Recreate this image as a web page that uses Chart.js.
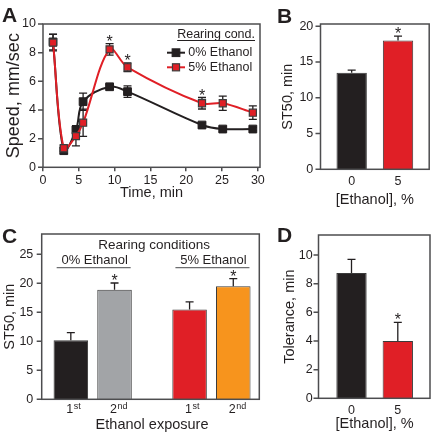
<!DOCTYPE html>
<html>
<head>
<meta charset="utf-8">
<script src="https://cdn.jsdelivr.net/npm/chart.js@4.4.1/dist/chart.umd.min.js"></script>
<style>
  body { margin: 0; background: #fff; }
  #wrap { position: relative; width: 433px; height: 444px; overflow: hidden; }
  #wrap canvas { position: absolute; left: 0; top: 0; }
  .tag { position: absolute; font: bold 21px 'Liberation Sans', Arial, sans-serif; color: #231f20; line-height: 1; }
</style>
</head>
<body>
<div id="wrap">
  <canvas id="chartA" width="433" height="444"></canvas>
  <canvas id="chartB" width="433" height="444"></canvas>
  <canvas id="chartC" width="433" height="444"></canvas>
  <canvas id="chartD" width="433" height="444"></canvas>
  <div class="tag" style="left:2px;top:4px">A</div>
  <div class="tag" style="left:277px;top:5px">B</div>
  <div class="tag" style="left:2px;top:225px">C</div>
  <div class="tag" style="left:277px;top:224px">D</div>
</div>
<script>
// panel A - speed over time
var times = [1.4, 2.9, 4.6, 5.6, 9.3, 11.8, 22.2, 25.1, 29.3];
var speed0 = [8.75, 1.16, 2.6, 4.58, 5.62, 5.28, 2.95, 2.67, 2.67];
var speed0Err = [0.55, 0.2, 0.3, 0.6, 0.15, 0.4, 0.15, 0.15, 0.12];
var speed5 = [8.7, 1.33, 2.18, 3.11, 8.23, 6.98, 4.47, 4.47, 3.81];
var speed5Err = [0.58, 0.2, 0.68, 0.95, 0.4, 0.3, 0.4, 0.5, 0.47];
var speed5Sig = [false, false, false, false, true, true, true, false, false];
var rearingTitle = 'Rearing cond.';

// panel B - ST50 by rearing ethanol
var ethanolCats = ['0', '5'];
var st50 = [13.5, 18.0];
var st50Err = [0.35, 0.6];
var st50Sig = [false, true];

// panel C - ST50 by exposure
var rearingGroups = ['0% Ethanol', '5% Ethanol'];
var exposureLabels = ['1st', '2nd'];
var st50First = [10.2, 15.5];
var st50FirstErr = [1.3, 1.3];
var st50Second = [18.9, 19.5];
var st50SecondErr = [1.15, 1.3];
var st50SecondSig = [true, true];

// panel D - tolerance
var tolerance = [8.75, 4.0];
var toleranceErr = [0.95, 1.3];
var toleranceSig = [false, true];

var FONT = "'Liberation Sans', Arial, Helvetica, sans-serif";
var INK = '#231f20';
var AXIS = '#4d4d4f';
var RED = '#e01f26';

Chart.defaults.font.family = FONT;
Chart.defaults.font.size = 12.5;
Chart.defaults.color = INK;
Chart.defaults.animation = false;

function valueOf(d) {
    return (d !== null && typeof d === 'object') ? d.y : d;
}

// caixa em volta do gráfico + marcas do eixo y
function framePlugin(insetLeft, insetRight) {
    return {
        id: 'frame',
        afterDatasetsDraw: function (chart) {
            var a = chart.chartArea, ctx = chart.ctx, ys = chart.scales.y;
            var l = a.left + insetLeft, r = a.right - insetRight;
            ctx.save();
            ctx.strokeStyle = AXIS;
            ctx.lineWidth = 1.5;
            ctx.strokeRect(l, a.top, r - l, a.bottom - a.top);
            ctx.beginPath();
            ys.ticks.forEach(function (t) {
                var y = ys.getPixelForValue(t.value);
                ctx.moveTo(l - 5, y);
                ctx.lineTo(l, y);
            });
            ctx.stroke();
            ctx.restore();
        }
    };
}

function drawErrors(chart, twoSided) {
    var ctx = chart.ctx, ys = chart.scales.y;
    ctx.save();
    ctx.strokeStyle = INK;
    ctx.lineWidth = 1.3;
    chart.data.datasets.forEach(function (ds, di) {
        var meta = chart.getDatasetMeta(di);
        meta.data.forEach(function (el, i) {
            var v = valueOf(ds.data[i]);
            var e = ds.errors[i];
            var top = ys.getPixelForValue(v + e);
            var bot = ys.getPixelForValue(twoSided ? v - e : v);
            ctx.beginPath();
            ctx.moveTo(el.x, bot);
            ctx.lineTo(el.x, top);
            ctx.moveTo(el.x - 4, top);
            ctx.lineTo(el.x + 4, top);
            if (twoSided) {
                ctx.moveTo(el.x - 4, bot);
                ctx.lineTo(el.x + 4, bot);
            }
            ctx.stroke();
        });
    });
    ctx.restore();
}

function drawStars(chart) {
    var ctx = chart.ctx, ys = chart.scales.y;
    ctx.save();
    ctx.fillStyle = INK;
    ctx.font = '16px ' + FONT;
    ctx.textAlign = 'center';
    ctx.textBaseline = 'alphabetic';
    chart.data.datasets.forEach(function (ds, di) {
        if (!ds.stars) return;
        var meta = chart.getDatasetMeta(di);
        meta.data.forEach(function (el, i) {
            if (!ds.stars[i]) return;
            var top = ys.getPixelForValue(valueOf(ds.data[i]) + ds.errors[i]);
            ctx.fillText('*', el.x, top + 3);
        });
    });
    ctx.restore();
}

var errorPlugin = {
    id: 'errors',
    afterDatasetsDraw: function (chart) {
        drawErrors(chart, false);
        drawStars(chart);
    }
};

function yScale(max, step, title, width, labelPad, titlePad, titleSize) {
    return {
        min: 0, max: max,
        ticks: { stepSize: step, padding: labelPad, includeBounds: false },
        grid: { display: false, drawTicks: false },
        border: { display: false },
        title: { display: true, text: title, font: { size: titleSize || 14.5 }, padding: { top: titlePad, bottom: 0 } },
        afterFit: function (s) { s.width = width; }
    };
}

function barX(title, height, showTicks) {
    return {
        offset: true,
        ticks: { display: showTicks, padding: 5, maxRotation: 0 },
        grid: { display: false, drawTicks: false },
        border: { display: false },
        title: { display: true, text: title, font: { size: 14.5 }, padding: 0 },
        afterFit: function (s) { s.height = height; }
    };
}

// ---------- A ----------
new Chart(document.getElementById('chartA'), {
    type: 'line',
    data: {
        datasets: [{
            label: '0% Ethanol',
            data: times.map(function (t, i) { return { x: t, y: speed0[i] }; }),
            errors: speed0Err,
            borderColor: INK, borderWidth: 2, tension: 0.35,
            pointStyle: 'rect', pointRadius: 5.5, pointBorderWidth: 1,
            pointBackgroundColor: INK, pointBorderColor: INK,
            order: 1
        }, {
            label: '5% Ethanol',
            data: times.map(function (t, i) { return { x: t, y: speed5[i] }; }),
            errors: speed5Err,
            stars: speed5Sig,
            borderColor: RED, borderWidth: 2, tension: 0.35,
            pointStyle: 'rect', pointRadius: 5, pointBorderWidth: 1.2,
            pointBackgroundColor: RED, pointBorderColor: '#3d3d3d',
            order: 0
        }]
    },
    options: {
        responsive: false,
        layout: { autoPadding: false, padding: { left: 0, top: 24, right: 173, bottom: 242.3 } },
        plugins: { legend: { display: false }, tooltip: { enabled: false } },
        scales: {
            x: {
                type: 'linear', min: 0, max: 30.3,
                ticks: { stepSize: 5, padding: 2, includeBounds: false, maxRotation: 0 },
                grid: { drawOnChartArea: false, drawTicks: true, tickLength: 4, color: AXIS, lineWidth: 1.5 },
                border: { display: false },
                title: { display: true, text: 'Time, min', font: { size: 14.5 }, padding: 0 },
                afterFit: function (s) { s.height = 34.4; }
            },
            y: yScale(10, 2, 'Speed, mm/sec', 43, 7, 2.9, 18)
        }
    },
    plugins: [framePlugin(0, 0), {
        id: 'errorsA',
        beforeDatasetsDraw: function (chart) { drawErrors(chart, true); },
        afterDatasetsDraw: function (chart) { drawStars(chart); }
    }, {
        id: 'legendA',
        afterDraw: function (chart) {
            var ctx = chart.ctx, a = chart.chartArea;
            ctx.save();
            ctx.font = '12.5px ' + FONT;
            ctx.fillStyle = INK;
            ctx.textAlign = 'right';
            ctx.textBaseline = 'alphabetic';
            var rx = a.right - 5;
            ctx.fillText(rearingTitle, rx, a.top + 14);
            var w = ctx.measureText(rearingTitle).width;
            ctx.strokeStyle = INK;
            ctx.lineWidth = 1;
            ctx.beginPath();
            ctx.moveTo(rx - w, a.top + 16.5);
            ctx.lineTo(rx, a.top + 16.5);
            ctx.stroke();
            ctx.textAlign = 'left';
            ctx.textBaseline = 'middle';
            chart.data.datasets.forEach(function (ds, i) {
                var y = a.top + 28.7 + i * 14.6;
                var x0 = a.left + 124;
                ctx.strokeStyle = ds.borderColor;
                ctx.lineWidth = 2;
                ctx.beginPath();
                ctx.moveTo(x0, y);
                ctx.lineTo(x0 + 18, y);
                ctx.stroke();
                var s = ds.pointRadius * Math.SQRT1_2;
                ctx.fillStyle = ds.pointBackgroundColor;
                ctx.fillRect(x0 + 9 - s, y - s, 2 * s, 2 * s);
                ctx.strokeStyle = ds.pointBorderColor;
                ctx.lineWidth = ds.pointBorderWidth;
                ctx.strokeRect(x0 + 9 - s, y - s, 2 * s, 2 * s);
                ctx.fillStyle = INK;
                ctx.fillText(ds.label, x0 + 21.3, y);
            });
            ctx.restore();
        }
    }]
});

// ---------- B ----------
new Chart(document.getElementById('chartB'), {
    type: 'bar',
    data: {
        labels: ethanolCats,
        datasets: [{
            data: st50, errors: st50Err, stars: st50Sig,
            backgroundColor: [INK, RED], borderColor: '#3a3a3a', borderWidth: 1,
            categoryPercentage: 1, barPercentage: 0.655
        }]
    },
    options: {
        responsive: false,
        layout: { autoPadding: false, padding: { left: 274.6, top: 24, right: 11.8, bottom: 235.3 } },
        plugins: { legend: { display: false }, tooltip: { enabled: false } },
        scales: {
            x: barX('[Ethanol], %', 39.4, true),
            y: yScale(20.3, 5, 'ST50, min', 53.9, 15.2, 5)
        }
    },
    plugins: [framePlugin(-8, -8), errorPlugin]
});

// ---------- C ----------
new Chart(document.getElementById('chartC'), {
    type: 'bar',
    data: {
        labels: rearingGroups,
        datasets: [{
            label: exposureLabels[0],
            data: st50First, errors: st50FirstErr,
            backgroundColor: [INK, RED], borderColor: '#3a3a3a', borderWidth: 1,
            categoryPercentage: 0.736, barPercentage: 0.79
        }, {
            label: exposureLabels[1],
            data: st50Second, errors: st50SecondErr, stars: st50SecondSig,
            backgroundColor: ['#a2a4a7', '#f7941d'], borderColor: '#3a3a3a', borderWidth: 1,
            categoryPercentage: 0.736, barPercentage: 0.79
        }]
    },
    options: {
        responsive: false,
        layout: { autoPadding: false, padding: { left: 1.6, top: 234, right: 162.2, bottom: 10.3 } },
        plugins: { legend: { display: false }, tooltip: { enabled: false } },
        scales: {
            x: barX('Ethanol exposure', 34.4, false),
            y: yScale(28.5, 5, 'ST50, min', 31.7, 0, 0)
        }
    },
    plugins: [framePlugin(8.4, 11.5), errorPlugin, {
        id: 'groupsC',
        afterDraw: function (chart) {
            var ctx = chart.ctx, a = chart.chartArea, xs = chart.scales.x;
            ctx.save();
            ctx.fillStyle = INK;
            ctx.textAlign = 'center';
            ctx.textBaseline = 'middle';
            ctx.font = '13.5px ' + FONT;
            ctx.fillText('Rearing conditions', (a.left + a.right) / 2 + 2, a.top + 11);
            ctx.font = '13px ' + FONT;
            ctx.strokeStyle = '#6d6e70';
            ctx.lineWidth = 1.3;
            rearingGroups.forEach(function (g, i) {
                var cx = xs.getPixelForValue(i);
                ctx.fillText(g, cx + 2, a.top + 26);
                ctx.beginPath();
                ctx.moveTo(cx - 36, a.top + 33.7);
                ctx.lineTo(cx + 38, a.top + 33.7);
                ctx.stroke();
            });
            // rótulos 1st / 2nd com sobrescrito
            chart.data.datasets.forEach(function (ds, di) {
                var meta = chart.getDatasetMeta(di);
                var main = ds.label.charAt(0), sup = ds.label.slice(1);
                meta.data.forEach(function (el) {
                    var x = el.x - 4.5;
                    ctx.textAlign = 'left';
                    ctx.textBaseline = 'alphabetic';
                    ctx.font = '12.5px ' + FONT;
                    ctx.fillText(main, x, a.bottom + 14);
                    var w = ctx.measureText(main).width;
                    ctx.font = '9px ' + FONT;
                    ctx.fillText(sup, x + w + 0.5, a.bottom + 10);
                });
            });
            ctx.restore();
        }
    }]
});

// ---------- D ----------
new Chart(document.getElementById('chartD'), {
    type: 'bar',
    data: {
        labels: ethanolCats,
        datasets: [{
            data: tolerance, errors: toleranceErr, stars: toleranceSig,
            backgroundColor: [INK, RED], borderColor: '#3a3a3a', borderWidth: 1,
            categoryPercentage: 1, barPercentage: 0.655
        }]
    },
    options: {
        responsive: false,
        layout: { autoPadding: false, padding: { left: 276.3, top: 235, right: 12.05, bottom: 11.3 } },
        plugins: { legend: { display: false }, tooltip: { enabled: false } },
        scales: {
            x: barX('[Ethanol], %', 34.4, true),
            y: yScale(11.4, 2, 'Tolerance, min', 52.05, 15.65, 5)
        }
    },
    plugins: [framePlugin(-9.85, -9.05), errorPlugin]
});
</script>
</body>
</html>
